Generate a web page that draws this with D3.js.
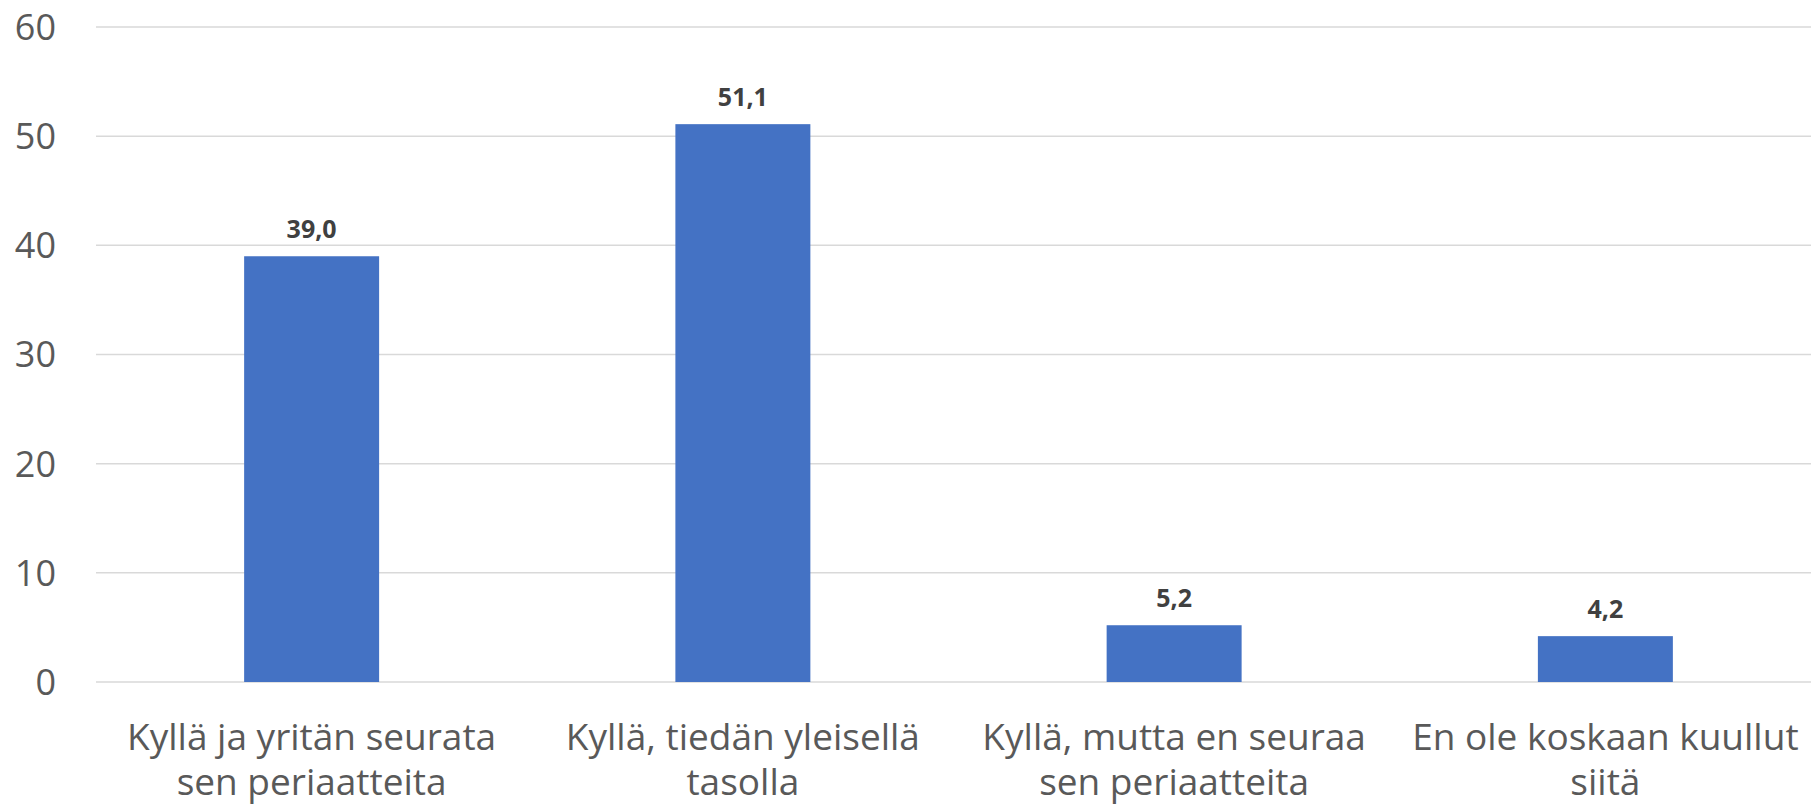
<!DOCTYPE html>
<html>
<head>
<meta charset="utf-8">
<script src="https://cdn.jsdelivr.net/npm/d3@7"></script>
<style>
	body { margin: 0; background: #fff; }
	svg { display: block; font-family: 'Open Sans', sans-serif; }
	.grid line { stroke: #d9d9d9; stroke-width: 1.5; }
	.tick-label { fill: #595959; font-size: 36px; }
	.cat-label { fill: #595959; font-size: 37px; }
	.value-label { fill: #404040; font-size: 25px; font-weight: bold; }
</style>
</head>
<body>
<svg id="chart" width="1811" height="809"></svg>
<script>
// categories are split into two lines as in the original
const categories = [
	['Kyllä ja yritän seurata', 'sen periaatteita'],
	['Kyllä, tiedän yleisellä', 'tasolla'],
	['Kyllä, mutta en seuraa', 'sen periaatteita'],
	['En ole koskaan kuullut', 'siitä']
];
const values = [39.0, 51.1, 5.2, 4.2];
const yTicks = [0, 10, 20, 30, 40, 50, 60];

const svg = d3.select('#chart');
const plotLeft = 96, plotRight = 1821, plotTop = 27, plotBottom = 682;

const x = d3.scaleBand()
	.domain(d3.range(categories.length))
	.range([plotLeft, plotRight])
	.paddingInner(0.687)
	.paddingOuter(0.3435);

const y = d3.scaleLinear().domain([0, 60]).range([plotBottom, plotTop]);

// gridlines
svg.append('g').attr('class', 'grid')
	.selectAll('line')
	.data(yTicks)
	.enter()
	.append('line')
	.attr('x1', plotLeft)
	.attr('x2', plotRight)
	.attr('y1', (d) => y(d))
	.attr('y2', (d) => y(d));

// y labels
svg.append('g')
	.selectAll('text')
	.data(yTicks)
	.enter()
	.append('text')
	.attr('class', 'tick-label')
	.attr('x', 56)
	.attr('y', (d) => y(d))
	.attr('dy', '0.36em')
	.attr('text-anchor', 'end')
	.text((d) => d);

// bars
svg.append('g')
	.selectAll('rect')
	.data(values)
	.enter()
	.append('rect')
	.attr('x', (d, i) => x(i))
	.attr('width', x.bandwidth())
	.attr('y', (d) => y(d))
	.attr('height', (d) => y(0) - y(d))
	.attr('fill', '#4472c4');

// value labels
svg.append('g')
	.selectAll('text')
	.data(values)
	.enter()
	.append('text')
	.attr('class', 'value-label')
	.attr('x', (d, i) => x(i) + x.bandwidth() / 2)
	.attr('y', (d) => y(d) - 18)
	.attr('text-anchor', 'middle')
	.text((d) => d.toFixed(1).replace('.', ','));

// category labels
let catG = svg.append('g')
	.selectAll('text')
	.data(categories)
	.enter()
	.append('text')
	.attr('class', 'cat-label')
	.attr('text-anchor', 'middle');
catG.selectAll('tspan')
	.data((d, i) => d.map((s) => ({ s: s, i: i })))
	.enter()
	.append('tspan')
	.attr('x', (d) => x(d.i) + x.bandwidth() / 2)
	.attr('y', (d, j) => 750 + j * 45)
	.text((d) => d.s);
</script>
</body>
</html>
